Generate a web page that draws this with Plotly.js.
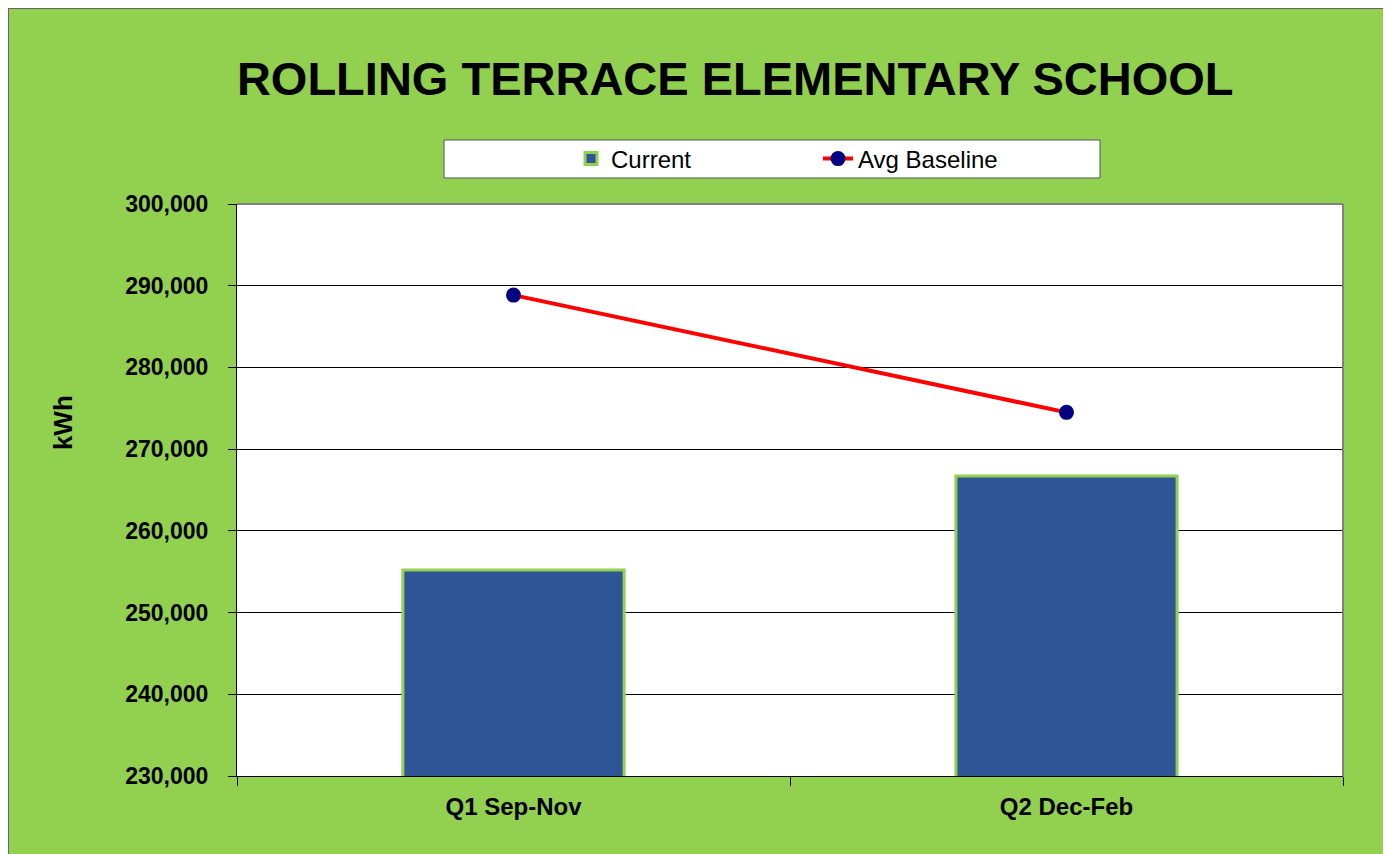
<!DOCTYPE html>
<html>
<head>
<meta charset="utf-8">
<script src="https://cdn.plot.ly/plotly-3.0.1.min.js"></script>
<style>
  body { margin: 8px; background: #fff; }
  #chart {
    width: 1378px; height: 845px;
    border: 1px solid #666; border-bottom: none;
    background: #92D050;
  }
</style>
</head>
<body>
<div id="chart"></div>
<script>
var quarters = ['Q1 Sep-Nov', 'Q2 Dec-Feb'];
var current = [255200, 266700];
var avgBaseline = [288850, 274500];

var sans = '"Liberation Sans", Arial, sans-serif';

var trace1 = {
  x: quarters,
  y: current,
  name: 'Current',
  type: 'bar',
  width: 0.4,
  marker: { color: '#2F5597', line: { color: '#92D050', width: 3 } }
};

var trace2 = {
  x: quarters,
  y: avgBaseline,
  name: 'Avg Baseline',
  type: 'scatter',
  mode: 'lines+markers',
  line: { color: '#FF0000', width: 4 },
  marker: { color: '#000080', size: 15 }
};

var layout = {
  width: 1378,
  height: 845,
  margin: { l: 228, r: 44, t: 195, b: 78 },
  paper_bgcolor: '#92D050',
  plot_bgcolor: '#FFFFFF',
  showlegend: true,
  title: {
    text: 'ROLLING TERRACE ELEMENTARY SCHOOL',
    font: { family: sans, size: 47, color: '#000', weight: 'bold' },
    xref: 'container', x: 0.527, xanchor: 'center',
    yref: 'container', y: 0.918, yanchor: 'middle'
  },
  legend: {
    orientation: 'h',
    x: 0.302, xanchor: 'left',
    y: 1.0787, yanchor: 'middle',
    bgcolor: 'rgba(0,0,0,0)',
    font: { family: sans, size: 24, color: '#000' },
    entrywidth: 202
  },
  xaxis: {
    type: 'category',
    showgrid: false,
    showline: true, linecolor: '#000', linewidth: 1,
    ticks: 'outside', tickson: 'boundaries', ticklen: 9, tickcolor: '#000',
    tickfont: { family: sans, size: 24, color: '#000', weight: 'bold' },
    ticklabelstandoff: 9,
    fixedrange: true
  },
  yaxis: {
    range: [230000, 300000],
    dtick: 10000,
    tickformat: ',d',
    showgrid: true, gridcolor: '#000', gridwidth: 1,
    showline: true, linecolor: '#000', linewidth: 1,
    ticks: 'outside', ticklen: 8, tickcolor: '#000',
    tickfont: { family: sans, size: 23, color: '#000', weight: 'bold' },
    ticklabelstandoff: 15,
    zeroline: false,
    fixedrange: true
  },
  shapes: [
    // legend box
    { type: 'rect', xref: 'paper', yref: 'paper', x0: 0.1872, x1: 0.7803, y0: 1.0455, y1: 1.1119,
      fillcolor: '#FFFFFF', line: { color: '#555', width: 1 }, layer: 'below' },
    // top and right plot border
    { type: 'line', xref: 'paper', yref: 'paper', x0: 0, x1: 1, y0: 1, y1: 1,
      line: { color: '#808080', width: 2 } },
    { type: 'line', xref: 'paper', yref: 'paper', x0: 1, x1: 1, y0: 0, y1: 1,
      line: { color: '#808080', width: 2 } }
  ],
  annotations: [
    { text: 'kWh', xref: 'paper', yref: 'paper', x: -0.1573, y: 0.617,
      xanchor: 'center', yanchor: 'middle', textangle: -90, showarrow: false,
      font: { family: sans, size: 26, color: '#000', weight: 'bold' } }
  ]
};

Plotly.newPlot('chart', [trace1, trace2], layout, { displayModeBar: false });
</script>
</body>
</html>
